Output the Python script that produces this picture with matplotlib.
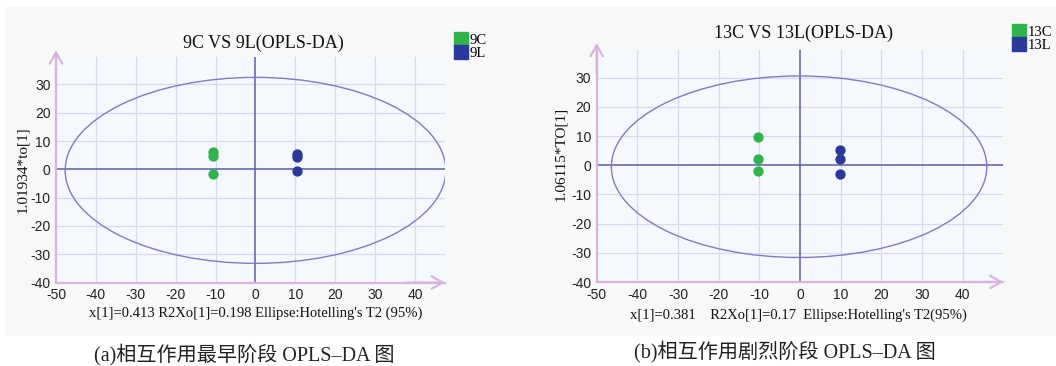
import matplotlib
matplotlib.use("Agg")
import matplotlib.pyplot as plt
from matplotlib.patches import Ellipse, Rectangle
from matplotlib.lines import Line2D

plt.rcParams["axes.unicode_minus"] = False

W, H = 1056, 366

# ---------------- data ----------------
titles = ["9C VS 9L(OPLS-DA)", "13C VS 13L(OPLS-DA)"]
group_labels = [["9C", "9L"], ["13C", "13L"]]
ylabels = ["1.01934*to[1]", "1.06115*TO[1]"]
xlabels = ["x[1]=0.413 R2Xo[1]=0.198 Ellipse:Hotelling's T2 (95%)",
           "x[1]=0.381    R2Xo[1]=0.17  Ellipse:Hotelling's T2(95%)"]
captions = ["(a)相互作用最早阶段 OPLS\u2013DA 图", "(b)相互作用剧烈阶段 OPLS\u2013DA 图"]

a_c_x = [-10.6, -10.6, -10.7]
a_c_y = [6.2, 4.7, -1.7]
a_l_x = [10.5, 10.5, 10.4]
a_l_y = [5.4, 4.2, -0.7]

b_c_x = [-10.4, -10.4, -10.4]
b_c_y = [9.6, 2.3, -2.1]
b_l_x = [9.8, 9.8, 9.8]
b_l_y = [5.2, 2.1, -2.9]

ellipse_a = (0.0, -0.35, 95.4, 65.7)   # cx, cy, width, height
ellipse_b = (-0.25, -0.5, 92.3, 62.2)

xticks = [-50, -40, -30, -20, -10, 0, 10, 20, 30, 40]
yticks = [-40, -30, -20, -10, 0, 10, 20, 30]
xgrid = [-40, -30, -20, -10, 10, 20, 30, 40]
ygrid = [-30, -20, -10, 10, 20, 30]

GREEN = "#2db54b"
BLUE = "#2a3a9c"
SPINE = "#d9b3de"
GRIDC = "#d9d9ee"
ZEROC = "#5c5cac"
ELLC = "#8478c8"
SERIF = "Liberation Serif"

fig = plt.figure(figsize=(W / 100, H / 100), dpi=100)
fig.patch.set_facecolor("white")
fig.add_artist(Rectangle((5 / W, (H - 336) / H), 1 - 5 / W, (336 - 7) / H,
                         transform=fig.transFigure, facecolor="#f8f8f8",
                         edgecolor="none", zorder=-10))


def fx(px):
    return px / W


def fy(py):
    return 1 - py / H


panels = [
    dict(box=(56, 445, 57, 282.6), xlim=(-50, 47.5), ylim=(-40, 39.7),
         cx=a_c_x, cy=a_c_y, lx=a_l_x, ly=a_l_y, ell=ellipse_a,
         title=(263, 43), xl=(255.5, 313), yl=(23, 170), cap=(244, 355),
         leg=(455, 34)),
    dict(box=(596.7, 1003.5, 50, 282), xlim=(-50, 50), ylim=(-40, 39.5),
         cx=b_c_x, cy=b_c_y, lx=b_l_x, ly=b_l_y, ell=ellipse_b,
         title=(803, 33), xl=(798, 315), yl=(561, 154), cap=(785, 352),
         leg=(1013, 26)),
]

for i, p in enumerate(panels):
    x0, x1, y0, y1 = p["box"]
    ax = fig.add_axes([fx(x0), fy(y1), (x1 - x0) / W, (y1 - y0) / H])
    ax.set_facecolor("#f5f8fc")
    ax.set_xlim(*p["xlim"])
    ax.set_ylim(*p["ylim"])
    for v in xgrid:
        ax.axvline(v, color=GRIDC, lw=0.9, zorder=1)
    for v in ygrid:
        ax.axhline(v, color=GRIDC, lw=0.9, zorder=1)
    ax.axvline(0, color=ZEROC, lw=1.1, zorder=2)
    ax.axhline(0, color=ZEROC, lw=1.1, zorder=2)
    cx, cy, ew, eh = p["ell"]
    ax.add_patch(Ellipse((cx, cy), ew, eh, fill=False, edgecolor=ELLC, lw=1.0, zorder=3))
    ax.scatter(p["cx"], p["cy"], s=55, color=GREEN, zorder=5, linewidths=0)
    ax.scatter(p["lx"], p["ly"], s=55, color=BLUE, zorder=5, linewidths=0)

    for s in ["top", "right"]:
        ax.spines[s].set_visible(False)
    for s in ["left", "bottom"]:
        ax.spines[s].set_color(SPINE)
        ax.spines[s].set_linewidth(1.6)
    # arrows
    ax.annotate("", xy=(0, 1.03), xytext=(0, 0.9), xycoords="axes fraction",
                arrowprops=dict(arrowstyle="->,head_length=0.8,head_width=0.45",
                                color=SPINE, lw=1.6, shrinkA=0, shrinkB=0),
                annotation_clip=False)
    ax.annotate("", xy=(1.0, 0), xytext=(0.9, 0), xycoords="axes fraction",
                arrowprops=dict(arrowstyle="->,head_length=0.8,head_width=0.45",
                                color=SPINE, lw=1.6, shrinkA=0, shrinkB=0),
                annotation_clip=False)

    ax.set_xticks(xticks)
    ax.set_yticks(yticks)
    ax.tick_params(length=0, labelsize=10, colors="#222222", pad=4)
    for lab in ax.get_xticklabels() + ax.get_yticklabels():
        lab.set_family("Liberation Sans")

    fig.text(fx(p["title"][0]), fy(p["title"][1]), titles[i], family=SERIF,
             fontsize=13, ha="center", va="center", color="#111111")
    fig.text(fx(p["xl"][0]), fy(p["xl"][1]), xlabels[i], family=SERIF,
             fontsize=10.5, ha="center", va="center", color="#111111")
    fig.text(fx(p["yl"][0]), fy(p["yl"][1]), ylabels[i], family=SERIF,
             fontsize=11, ha="center", va="center", rotation=90, color="#111111")
    fig.text(fx(p["cap"][0]), fy(p["cap"][1]), captions[i],
             family=[SERIF, "Noto Sans CJK SC"], fontsize=14.5,
             ha="center", va="center", color="#222222")

    handles = [Line2D([], [], marker="s", ls="none", color=GREEN, markersize=9.5),
               Line2D([], [], marker="s", ls="none", color=BLUE, markersize=9.5)]
    fig.legend(handles, group_labels[i], loc="upper left",
               bbox_to_anchor=(fx(p["leg"][0]), fy(p["leg"][1])),
               bbox_transform=fig.transFigure, frameon=False,
               prop=dict(family=SERIF, size=10.5), handlelength=0.8,
               handletextpad=0.2, labelspacing=0.0, borderpad=0,
               borderaxespad=0)

fig.savefig("out.png", dpi=100, facecolor=fig.get_facecolor())
